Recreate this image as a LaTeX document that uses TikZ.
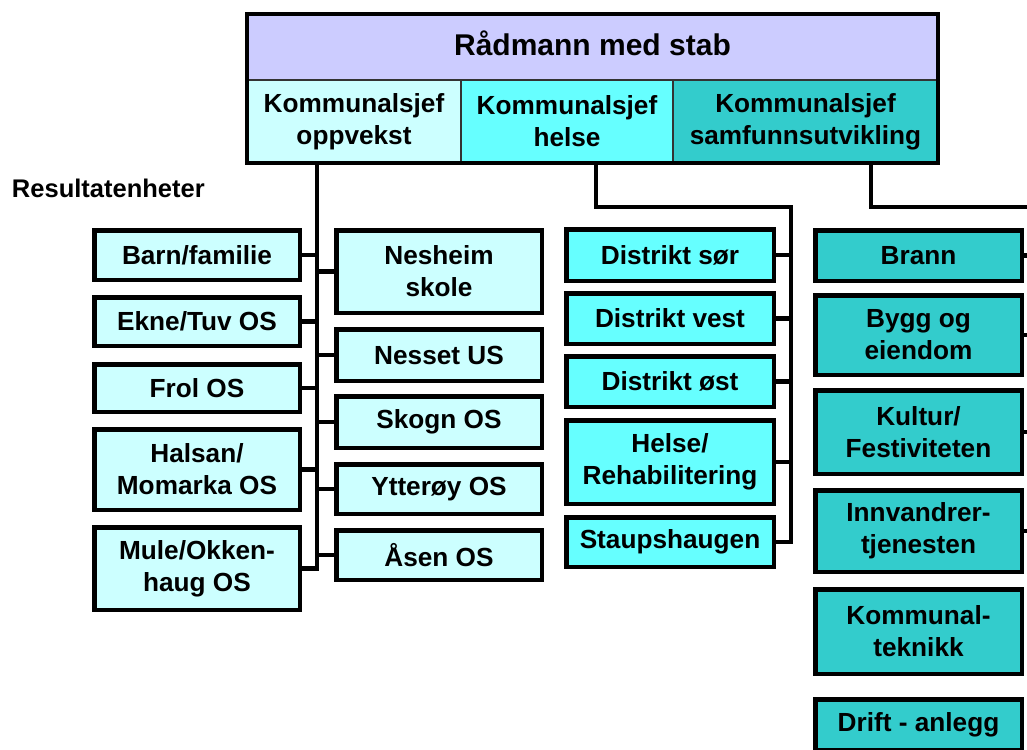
\documentclass[tikz,border=0pt]{standalone}
\usepackage{fontspec}
\setmainfont{Liberation Sans}
\usetikzlibrary{calc}
\definecolor{lav}{HTML}{CCCCFF}
\definecolor{pale}{HTML}{CCFFFF}
\definecolor{aqua}{HTML}{66FFFF}
\definecolor{tealc}{HTML}{33CCCC}
\begin{document}
\begin{tikzpicture}[x=1pt,y=-1pt,
  every node/.style={font=\fontsize{26.2}{32}\selectfont\bfseries, align=center, inner sep=0pt, outer sep=0pt},
  unitbox/.style n args={3}{draw=black, line width=4.5pt, fill=#1, minimum width=#2, minimum height=#3},
  cell/.style n args={3}{draw=black!80, line width=1.2pt, fill=#1, minimum width=#2, minimum height=#3},
  conn/.style={line width=4.5pt}]
\useasboundingbox (0,0) rectangle (1027,749);
\clip (0,0) rectangle (1027,749);

% header
\node[cell={lav}{691}{66}, text depth=7pt, font=\fontsize{30}{36}\selectfont\bfseries] (rad) at (592.5,47) {Rådmann med stab};
\node[cell={pale}{214}{83}, font=\fontsize{26.2}{32}\selectfont\bfseries] (kop) at (354,121.5) {Kommunalsjef\\oppvekst};
\node[cell={aqua}{212}{83}, font=\fontsize{26.2}{32}\selectfont\bfseries] (khe) at (567,121.5) {Kommunalsjef\\helse};
\node[cell={tealc}{265}{83}, font=\fontsize{26.2}{32}\selectfont\bfseries] (ksa) at (805.5,121.5) {Kommunalsjef\\samfunnsutvikling};
\draw[line width=4pt] (rad.north west) rectangle (ksa.south east);

\node[anchor=base west, font=\fontsize{25.5}{30}\selectfont\bfseries] (res) at (12,197) {Resultatenheter};

% oppvekst, left column
\node[unitbox={pale}{205.5}{49.5}] (barn) at (197,255) {Barn/familie};
\node[unitbox={pale}{205.5}{48.5}] (ekne) at (197,321.5) {Ekne/Tuv OS};
\node[unitbox={pale}{205.5}{47.5}] (frol) at (197,388) {Frol OS};
\node[unitbox={pale}{205.5}{80.5}] (halsan) at (197,469.5) {Halsan/\\Momarka OS};
\node[unitbox={pale}{205.5}{82.5}] (mule) at (197,568.5) {Mule/Okken-\\haug OS};
% oppvekst, right column
\node[unitbox={pale}{205.5}{82.5}] (nesheim) at (439,271.5) {Nesheim\\skole};
\node[unitbox={pale}{205.5}{51.5}] (nesset) at (439,355) {Nesset US};
\node[unitbox={pale}{205.5}{51.5}] (skogn) at (439,422) {Skogn OS};
\node[unitbox={pale}{205.5}{49.5}] (ytteroy) at (439,489) {Ytterøy OS};
\node[unitbox={pale}{205.5}{49.5}] (asen) at (439,555) {Åsen OS};

% helse
\node[unitbox={aqua}{207.5}{51.5}] (dsor) at (670,255) {Distrikt sør};
\node[unitbox={aqua}{207.5}{50.5}] (dvest) at (670,318.5) {Distrikt vest};
\node[unitbox={aqua}{207.5}{50.5}] (dost) at (670,381.5) {Distrikt øst};
\node[unitbox={aqua}{207.5}{83.5}] (hrehab) at (670,462) {Helse/\\Rehabilitering};
\node[unitbox={aqua}{207.5}{49.5}] (staup) at (670,542) {Staupshaugen};

% samfunnsutvikling
\node[unitbox={tealc}{206.5}{50.5}] (brann) at (918.5,255.5) {Brann};
\node[unitbox={tealc}{206.5}{79.5}] (bygg) at (918.5,335) {Bygg og\\eiendom};
\node[unitbox={tealc}{206.5}{83.5}] (kultur) at (918.5,432) {Kultur/\\Festiviteten};
\node[unitbox={tealc}{206.5}{81.5}] (innv) at (918.5,531) {Innvandrer-\\tjenesten};
\node[unitbox={tealc}{206.5}{84.5}] (komm) at (918.5,631.5) {Kommunal-\\teknikk};
\node[unitbox={tealc}{206.5}{50.5}] (drift) at (918.5,724.5) {Drift - anlegg};

% connectors: oppvekst
\coordinate (tA) at (317,200);
\draw[conn] (kop.south -| tA) -- (tA |- mule.east) -- (mule.east);
\foreach \n in {barn,ekne,frol,halsan}
  \draw[conn] (\n.east) -- (\n.east -| tA);
\foreach \n in {nesheim,nesset,skogn,ytteroy,asen}
  \draw[conn] (\n.west) -- (\n.west -| tA);

% connectors: helse
\coordinate (hA) at (596,207);
\coordinate (hB) at (791,207);
\draw[conn] (khe.south -| hA) -- (hA) -- (hB) -- (hB |- staup.east) -- (staup.east);
\foreach \n in {dsor,dvest,dost,hrehab}
  \draw[conn] (\n.east) -- (\n.east -| hB);

% connectors: samfunnsutvikling
\coordinate (sA) at (871,207);
\coordinate (sB) at (1045,207);
\draw[conn] (ksa.south -| sA) -- (sA) -- (sB) -- (sB |- innv.east);
\foreach \n in {brann,bygg,kultur,innv}
  \draw[conn] (\n.east) -- (\n.east -| sB);
\end{tikzpicture}
\end{document}
